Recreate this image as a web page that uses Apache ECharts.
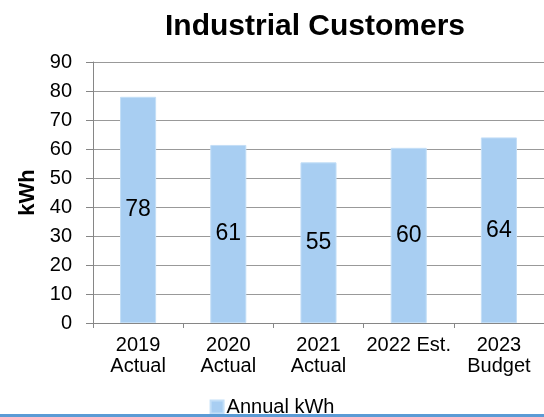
<!DOCTYPE html>
<html>
<head>
<meta charset="utf-8">
<style>
  html, body { margin: 0; padding: 0; background: #fff; }
  #chart { width: 544px; height: 417px; }
</style>
<script src="https://cdn.jsdelivr.net/npm/echarts@6/dist/echarts.min.js"></script>
</head>
<body>
<div id="chart"></div>
<script>
// categories and values
var categories = ["2019\nActual", "2020\nActual", "2021\nActual", "2022 Est.", "2023\nBudget"];
var annualKwh = [78, 61.4, 55.4, 60.4, 64];
var yTicks = { min: 0, max: 90, interval: 10 };

var font = "Liberation Sans, Arial, sans-serif";
var axisGrey = "#868686";

var chart = echarts.init(document.getElementById("chart"));
chart.setOption({
  animation: false,
  textStyle: { fontFamily: font },
  title: {
    text: "Industrial Customers",
    left: 310,
    textAlign: "center",
    top: 7,
    textStyle: { fontSize: 30, fontWeight: "bold", color: "#000", fontFamily: font }
  },
  grid: { left: 93, right: 0, top: 62, bottom: 94 },
  legend: {
    top: 392,
    left: "center",
    icon: "rect",
    itemWidth: 13,
    itemHeight: 13,
    itemGap: 4,
    textStyle: { fontSize: 20, color: "#000", fontFamily: font, padding: [0, 0, 0, -2] },
    data: ["Annual kWh"]
  },
  xAxis: {
    type: "category",
    data: categories,
    axisLine: { lineStyle: { color: axisGrey, width: 1 } },
    axisTick: { show: true, length: 5, lineStyle: { color: axisGrey } },
    axisLabel: { color: "#000", fontSize: 20, lineHeight: 21, margin: 12, interval: 0, fontFamily: font }
  },
  yAxis: {
    type: "value",
    min: yTicks.min,
    max: yTicks.max,
    interval: yTicks.interval,
    name: "kWh",
    nameLocation: "middle",
    nameGap: 53,
    nameTextStyle: { fontSize: 22, fontWeight: "bold", color: "#000", fontFamily: font },
    axisLine: { show: true, lineStyle: { color: axisGrey, width: 1 } },
    axisTick: { show: true, length: 7, lineStyle: { color: axisGrey } },
    splitLine: { lineStyle: { color: "#999", width: 1 } },
    axisLabel: { color: "#000", fontSize: 20, margin: 21, fontFamily: font }
  },
  series: [{
    name: "Annual kWh",
    type: "bar",
    data: annualKwh,
    barWidth: "40%",
    itemStyle: { color: "#a8cef2", borderColor: "#c4dff7", borderWidth: 1 },
    label: {
      show: true,
      position: "inside",
      fontSize: 23,
      color: "#000",
      fontFamily: font,
      formatter: function (p) { return Math.round(p.value); }
    }
  }],
  graphic: [{
    type: "rect",
    z: 100,
    shape: { x: 0, y: 414, width: 544, height: 3 },
    style: { fill: "#5b9bd5" }
  }]
});
</script>
</body>
</html>
